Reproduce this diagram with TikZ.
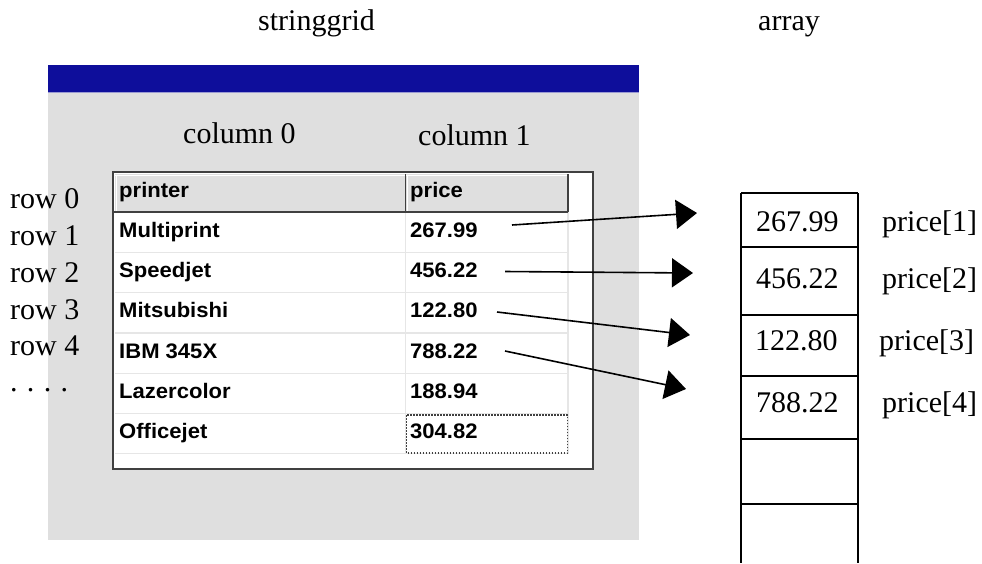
\documentclass[tikz,border=0pt]{standalone}
\usepackage{fontspec}
\setmainfont{Liberation Serif}
\newfontfamily\gridfont[FakeStretch=1.05]{Liberation Sans}
\usetikzlibrary{arrows.meta}
\definecolor{panelgray}{HTML}{DFDFDF}
\definecolor{titleblue}{HTML}{0E0E9B}
\definecolor{titleedge}{HTML}{9A9AD2}
\definecolor{borderdark}{HTML}{404040}
\definecolor{cellline}{HTML}{E6E6E6}
\tikzset{
  lbl/.style={inner sep=0pt, anchor=base west, font=\fontsize{30}{36}\selectfont},
  celltxt/.style={inner sep=0pt, anchor=base west, font=\gridfont\bfseries\fontsize{21}{25}\selectfont},
  ptr/.style={line width=1.6pt, -{Triangle[length=21pt,width=29pt]}},
  slot/.style={line width=1.7pt},
  thin grid/.style={cellline, line width=1.2pt},
  frame/.style={borderdark, line width=1.3pt},
}
\begin{document}
\begin{tikzpicture}[x=1pt,y=-1pt]
\useasboundingbox (0,0) rectangle (982,563);

% titles
\node[lbl] (tgrid) at (258,30) {stringgrid};
\node[lbl] (tarr) at (758,30) {array};

% form window
\fill[panelgray] (48,65) rectangle (639,540);
\fill[titleblue] (48,65) rectangle (639,92);
\draw[titleedge, line width=1pt] (48,92.5) -- (639,92.5);

\node[lbl] (col0) at (183,143) {column 0};
\node[lbl] (col1) at (418,145) {column 1};

% string grid
\fill[white] (113,172) rectangle (593,469);
\fill[panelgray] (115,174) rectangle (568,212);
\draw[white, line width=1pt] (115,175) -- (567,175) (116,175) -- (116,211) (407,175) -- (407,211);
\foreach \y in {252.3,292.6,332.9,373.2,413.5,453.8}
  \draw[thin grid] (115,\y) -- (568,\y);
\draw[thin grid] (405.5,212) -- (405.5,454) (568,212) -- (568,454);
\draw[frame] (114,212) -- (568,212) (405.5,174) -- (405.5,212) (568,174) -- (568,212);
\draw[borderdark, line width=2pt] (113,172) rectangle (593,469);
\draw[borderdark, dash pattern=on 1.5pt off 1.5pt, line width=1.5pt] (406.5,415) rectangle (567.5,453);

% header and cells
\node[celltxt] (hname) at (119,197) {printer};
\node[celltxt] (hprice) at (410,197) {price};
\node[celltxt] (n1) at (119,237.3) {Multiprint};
\node[celltxt] (p1) at (410,237.3) {267.99};
\node[celltxt] (n2) at (119,277.6) {Speedjet};
\node[celltxt] (p2) at (410,277.6) {456.22};
\node[celltxt] (n3) at (119,317.9) {Mitsubishi};
\node[celltxt] (p3) at (410,317.9) {122.80};
\node[celltxt] (n4) at (119,358.2) {IBM 345X};
\node[celltxt] (p4) at (410,358.2) {788.22};
\node[celltxt] (n5) at (119,398.5) {Lazercolor};
\node[celltxt] (p5) at (410,398.5) {188.94};
\node[celltxt] (n6) at (119,438.8) {Officejet};
\node[celltxt] (p6) at (410,438.8) {304.82};

% row labels
\node[lbl] (r0) at (10,208) {row 0};
\node[lbl] (r1) at (10,245.5) {row 1};
\node[lbl] (r2) at (10,282) {row 2};
\node[lbl] (r3) at (10,319) {row 3};
\node[lbl] (r4) at (10,355) {row 4};
\node[lbl] (rdots) at (10,391) {.\hspace{0.31em}.\hspace{0.31em}.\hspace{0.31em}.};

% array slots
\draw[slot] (741,193) -- (741,563) (858,193) -- (858,563);
\foreach \y in {193,247,315,376,439,504}
  \draw[slot] (741,\y) -- (858,\y);
\node[lbl] (a1) at (756,231.5) {267.99};
\node[lbl] (a2) at (756,288) {456.22};
\node[lbl] (a3) at (755,350) {122.80};
\node[lbl] (a4) at (756,412.5) {788.22};
\node[lbl] (i1) at (882,231.5) {price[1]};
\node[lbl] (i2) at (882,288) {price[2]};
\node[lbl] (i3) at (879,350) {price[3]};
\node[lbl] (i4) at (882,412.5) {price[4]};

% copy arrows
\coordinate (s1) at (512,225);   \coordinate (e1) at (697,213);
\coordinate (s2) at (505,271.5); \coordinate (e2) at (693,273);
\coordinate (s3) at (497,312);   \coordinate (e3) at (690,335);
\coordinate (s4) at (505,351);   \coordinate (e4) at (686,389);
\draw[ptr] (s1) -- (e1);
\draw[ptr] (s2) -- (e2);
\draw[ptr] (s3) -- (e3);
\draw[ptr] (s4) -- (e4);
\end{tikzpicture}
\end{document}
